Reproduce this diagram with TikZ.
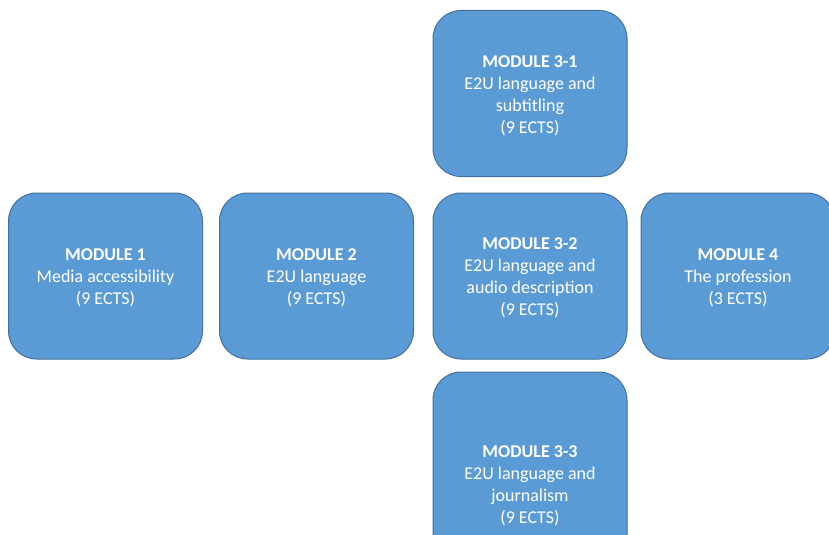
\documentclass[tikz,border=0pt]{standalone}
\usepackage{fontspec}
\setmainfont{Carlito}
\definecolor{modfill}{HTML}{5B9BD5}
\definecolor{modline}{HTML}{41719C}
% taller strut on the title line sets the text block slightly lower
\newcommand{\modtitle}[1]{\rule{0pt}{12pt}\textbf{#1}}
\begin{document}
\begin{tikzpicture}[x=0.75pt,y=-0.75pt,
  modbox/.style={draw=modline, line width=0.75pt, fill=modfill, text=white,
    rounded corners=21pt, minimum width=145.5pt, minimum height=124.5pt,
    inner sep=0pt, align=center, font=\fontsize{13.5}{16.5}\selectfont}]
\useasboundingbox (0,0) rectangle (829,535);
\clip (0,0) rectangle (829,535);
\node[modbox] (m1) at (105.5,276) {\modtitle{MODULE 1}\\Media accessibility\\(9 ECTS)};
\node[modbox] (m2) at (316.5,276) {\modtitle{MODULE 2}\\E2U language\\(9 ECTS)};
\node[modbox] (m31) at (530,93.5) {\modtitle{MODULE 3-1}\\E2U language and\\subtitling\\(9 ECTS)};
\node[modbox] (m32) at (530,276) {\modtitle{MODULE 3-2}\\E2U language and\\audio description\\(9 ECTS)};
\node[modbox] (m4) at (738,276) {\modtitle{MODULE 4}\\The profession\\(3 ECTS)};
\node[modbox, minimum height=168pt] (m33) at (530,484) {\modtitle{MODULE 3-3}\\E2U language and\\journalism\\(9 ECTS)};
\end{tikzpicture}
\end{document}
